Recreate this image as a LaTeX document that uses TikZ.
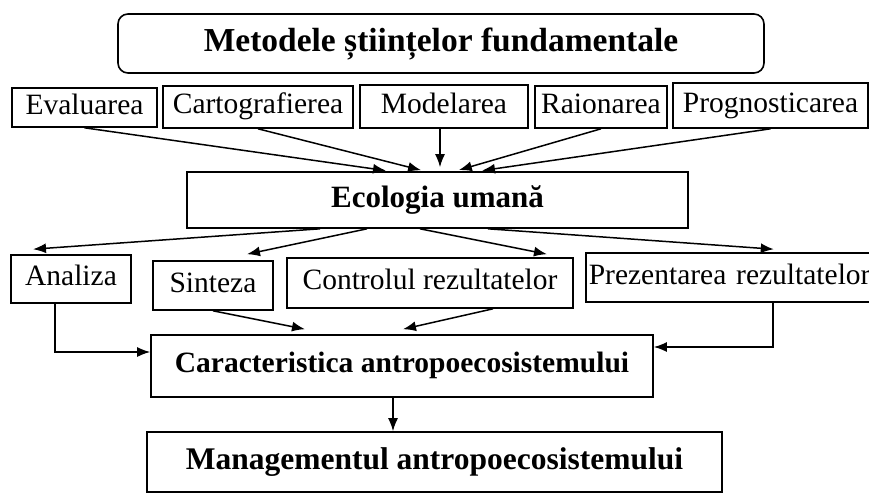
\documentclass[tikz,border=0pt]{standalone}
\usepackage{fontspec}
\setmainfont{Liberation Serif}
\usetikzlibrary{arrows.meta}
\begin{document}
\begin{tikzpicture}[x=1pt,y=-1pt,
  bx/.style={draw, line width=1.6pt, inner sep=0pt, text height=20pt, text depth=6.5pt,
             font=\fontsize{29.5}{31}\selectfont},
  arr/.style={line width=1.5pt, -{Latex[length=13pt,width=10pt]}}]
\useasboundingbox (0,0) rectangle (869,495);
\clip (0,0) rectangle (869,495);
\fill[white] (0,0) rectangle (869,495);

% top title
\node[bx, rounded corners=10pt, minimum width=646pt, minimum height=59pt, text height=23pt, text depth=7pt,
      font=\fontsize{33.5}{35}\selectfont\bfseries] (top) at (441,43.5) {Metodele științelor fundamentale};

% methods row
\node[bx, minimum width=145pt, minimum height=39pt] (eval)  at (84.5,107.5) {Evaluarea};
\node[bx, minimum width=190pt, minimum height=42pt] (carto) at (258,107)    {Cartografierea};
\node[bx, minimum width=168pt, minimum height=43pt] (model) at (444,106.5)  {Modelarea};
\node[bx, minimum width=132pt, minimum height=42pt] (raion) at (601,107)    {Raionarea};
\node[bx, minimum width=195pt, minimum height=45pt] (progn) at (770.5,105.5){Prognosticarea};

% ecology
\node[bx, minimum width=501pt, minimum height=56pt, text height=21pt, text depth=7pt,
      font=\fontsize{31}{33}\selectfont\bfseries] (eco) at (437.5,200) {Ecologia umană};

% operations row
\node[bx, minimum width=120pt, minimum height=48pt] (anal) at (71,279)    {Analiza};
\node[bx, minimum width=120pt, minimum height=49pt] (sint) at (213,285.5) {Sinteza};
\node[bx, minimum width=286pt, minimum height=50pt] (ctrl) at (430,283)   {Controlul rezultatelor};
\node[bx, anchor=west, inner xsep=3pt, text width=290pt, align=left, minimum height=49pt] (prez) at (585,277.5) {Prezentarea rezultatelor};

% characteristic & management
\node[bx, minimum width=502pt, minimum height=62pt,
      font=\fontsize{29.5}{31}\selectfont\bfseries] (carac) at (402,366) {Caracteristica antropoecosistemului};
\node[bx, minimum width=575pt, minimum height=60pt, text height=21pt, text depth=7pt,
      font=\fontsize{31.5}{33}\selectfont\bfseries] (manag) at (434.5,462) {Managementul antropoecosistemului};

% arrows: methods -> ecology
\draw[arr, shorten >=4pt] (eval.south)  -- ([xshift=-47.5pt]eco.north);
\draw[arr, shorten >=4pt] (carto.south) -- ([xshift=-12.5pt]eco.north);
\draw[arr, shorten >=4pt] ([xshift=-4pt]model.south) -- ([xshift=2.5pt]eco.north);
\draw[arr, shorten >=4pt] (raion.south) -- ([xshift=17.5pt]eco.north);
\draw[arr, shorten >=4pt] (progn.south) -- ([xshift=40.5pt]eco.north);

% arrows: ecology -> operations
\draw[arr] ([xshift=-117.5pt]eco.south) -- ([xshift=-38pt,yshift=5pt]anal.north);
\draw[arr] ([xshift=-70.5pt]eco.south)  -- ([xshift=34pt,yshift=6pt]sint.north);
\draw[arr] ([xshift=-17.5pt]eco.south)  -- ([xshift=117pt,yshift=3pt]ctrl.north);
\draw[arr] ([xshift=50.5pt]eco.south)   -- ([xshift=40pt,yshift=3pt]prez.north);

% arrows: operations -> characteristic
\draw[arr] (sint.south) -- ([xshift=-97pt,yshift=5pt]carac.north);
\draw[arr] ([xshift=63pt]ctrl.south) -- ([xshift=1pt,yshift=5pt]carac.north);
\draw[arr] ([xshift=-16pt]anal.south) |- ([yshift=14pt]carac.west);
\draw[arr] ([xshift=39pt]prez.south) |- ([yshift=19pt]carac.east);

% characteristic -> management
\draw[arr] ([xshift=-9pt]carac.south) -- ([xshift=-41.5pt]manag.north);
\end{tikzpicture}
\end{document}
